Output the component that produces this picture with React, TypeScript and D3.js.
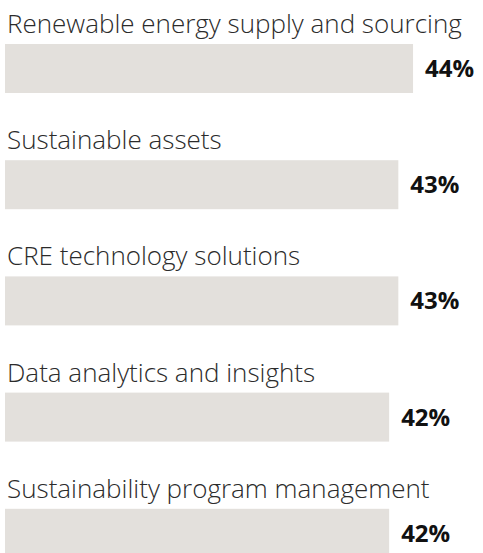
import * as d3 from "d3";

const categories = [
  "Renewable energy supply and sourcing",
  "Sustainable assets",
  "CRE technology solutions",
  "Data analytics and insights",
  "Sustainability program management",
];
const values = [44.4, 42.8, 42.8, 41.8, 41.8];
const valueLabels = ["44%", "43%", "43%", "42%", "42%"];

const width = 483;
const height = 553;

export default function App() {
  const rows = d3
    .scaleBand<string>()
    .domain(categories)
    .range([0, 581])
    .paddingInner(0);

  const x = d3.scaleLinear().domain([0, 50]).range([5, 464.5]);

  const labelGap = 11; // baseline to bar top
  const barTop = 44;
  const barH = 49;

  return (
    <svg
      width={width}
      height={height}
      style={{ position: "absolute", left: 0, top: 0, background: "#fff" }}
    >
      {categories.map((c, i) => {
        const y0 = rows(c)!;
        return (
          <g key={c}>
            <text
              x={7}
              y={y0 + barTop - labelGap}
              fontFamily="'Open Sans', sans-serif"
              fontWeight={300}
              fontSize={26}
              fill="#2b2b2b"
            >
              {c}
            </text>
            <rect
              x={x(0)}
              y={y0 + barTop}
              width={x(values[i]) - x(0)}
              height={barH}
              fill="#e3e0dc"
            />
            <text
              x={x(values[i]) + 12}
              y={y0 + barTop + barH / 2}
              dy="0.35em"
              fontFamily="'Open Sans', sans-serif"
              fontWeight={700}
              fontSize={24}
              fill="#111"
            >
              {valueLabels[i]}
            </text>
          </g>
        );
      })}
    </svg>
  );
}
